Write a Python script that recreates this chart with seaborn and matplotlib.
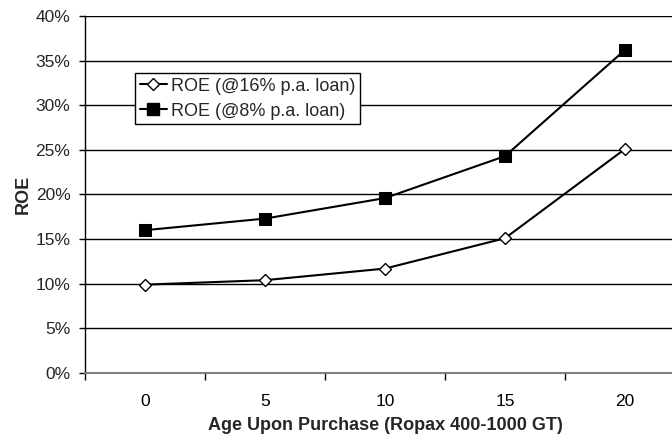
import matplotlib
matplotlib.use("Agg")
import matplotlib.pyplot as plt
import seaborn as sns
import pandas as pd
import numpy as np
from matplotlib.ticker import FixedLocator, PercentFormatter

ages = ["0", "5", "10", "15", "20"]
roe_16 = [9.9, 10.4, 11.7, 15.1, 25.1]
roe_8 = [16.0, 17.3, 19.6, 24.3, 36.2]
series_names = ["ROE (@16% p.a. loan)", "ROE (@8% p.a. loan)"]
y_ticks = [0, 5, 10, 15, 20, 25, 30, 35, 40]

sns.set_theme(style="white")
plt.rcParams['font.family'] = ['Liberation Sans', 'DejaVu Sans']

df = pd.DataFrame({
    "age": ages * 2,
    "roe": roe_16 + roe_8,
    "series": [series_names[0]] * len(ages) + [series_names[1]] * len(ages),
})

fig = plt.figure(figsize=(6.72, 4.36), dpi=100)
ax = fig.add_axes([85/672, 63/436, 600/672, 357/436])

sns.lineplot(data=df, x="age", y="roe", hue="series", style="series",
             palette=["black", "black"], markers=["D", "s"], dashes=False,
             sort=False, ax=ax, linewidth=1.5, legend=False)

lines = ax.get_lines()
lines[0].set_markerfacecolor("white")
lines[0].set_markeredgecolor("black")
lines[0].set_markersize(6)
lines[0].set_markeredgewidth(1.0)
lines[1].set_markerfacecolor("black")
lines[1].set_markeredgecolor("black")
lines[1].set_markersize(8)

ax.set_xlim(-0.5, len(ages) - 0.5)
ax.set_ylim(0, 40)
ax.set_yticks(y_ticks)
ax.yaxis.set_major_formatter(PercentFormatter(decimals=0))
ax.yaxis.grid(True, color="black", linewidth=1.0)
ax.xaxis.grid(False)
ax.set_axisbelow(True)

ax.xaxis.set_minor_locator(FixedLocator(np.arange(-0.5, len(ages), 1.0)))
ax.tick_params(axis="x", which="major", length=0, pad=15, labelsize=12.5, colors="black")
ax.tick_params(axis="x", which="minor", length=5, width=1, color="black", direction="out", bottom=True)
ax.tick_params(axis="y", which="major", length=4, width=1, color="black", direction="out", left=True, labelsize=12.5, pad=6.5)

for s in ["top", "right"]:
    ax.spines[s].set_visible(False)
ax.spines["left"].set_color("black")
ax.spines["left"].set_linewidth(1.0)
ax.spines["bottom"].set_color("#808080")
ax.spines["bottom"].set_linewidth(1.5)

ax.set_xlabel("Age Upon Purchase (Ropax 400-1000 GT)", fontsize=13, fontweight="bold", labelpad=6)
ax.set_ylabel("ROE", fontsize=13, fontweight="bold", labelpad=3)

handles = [
    plt.Line2D([], [], color="black", marker="D", markerfacecolor="white", markeredgecolor="black", markersize=6, linewidth=1.5),
    plt.Line2D([], [], color="black", marker="s", markerfacecolor="black", markersize=8, linewidth=1.5),
]
leg = ax.legend(handles, series_names, loc="upper left",
                fontsize=13, frameon=True, fancybox=False,
                framealpha=1, edgecolor="black", handlelength=1.5, handletextpad=0.25,
                borderpad=0.25, labelspacing=0.45, borderaxespad=0)
leg.get_frame().set_linewidth(1.0)
leg.set_bbox_to_anchor((135/672, 1 - 73/436), transform=fig.transFigure)

fig.savefig("out.png", dpi=100)
